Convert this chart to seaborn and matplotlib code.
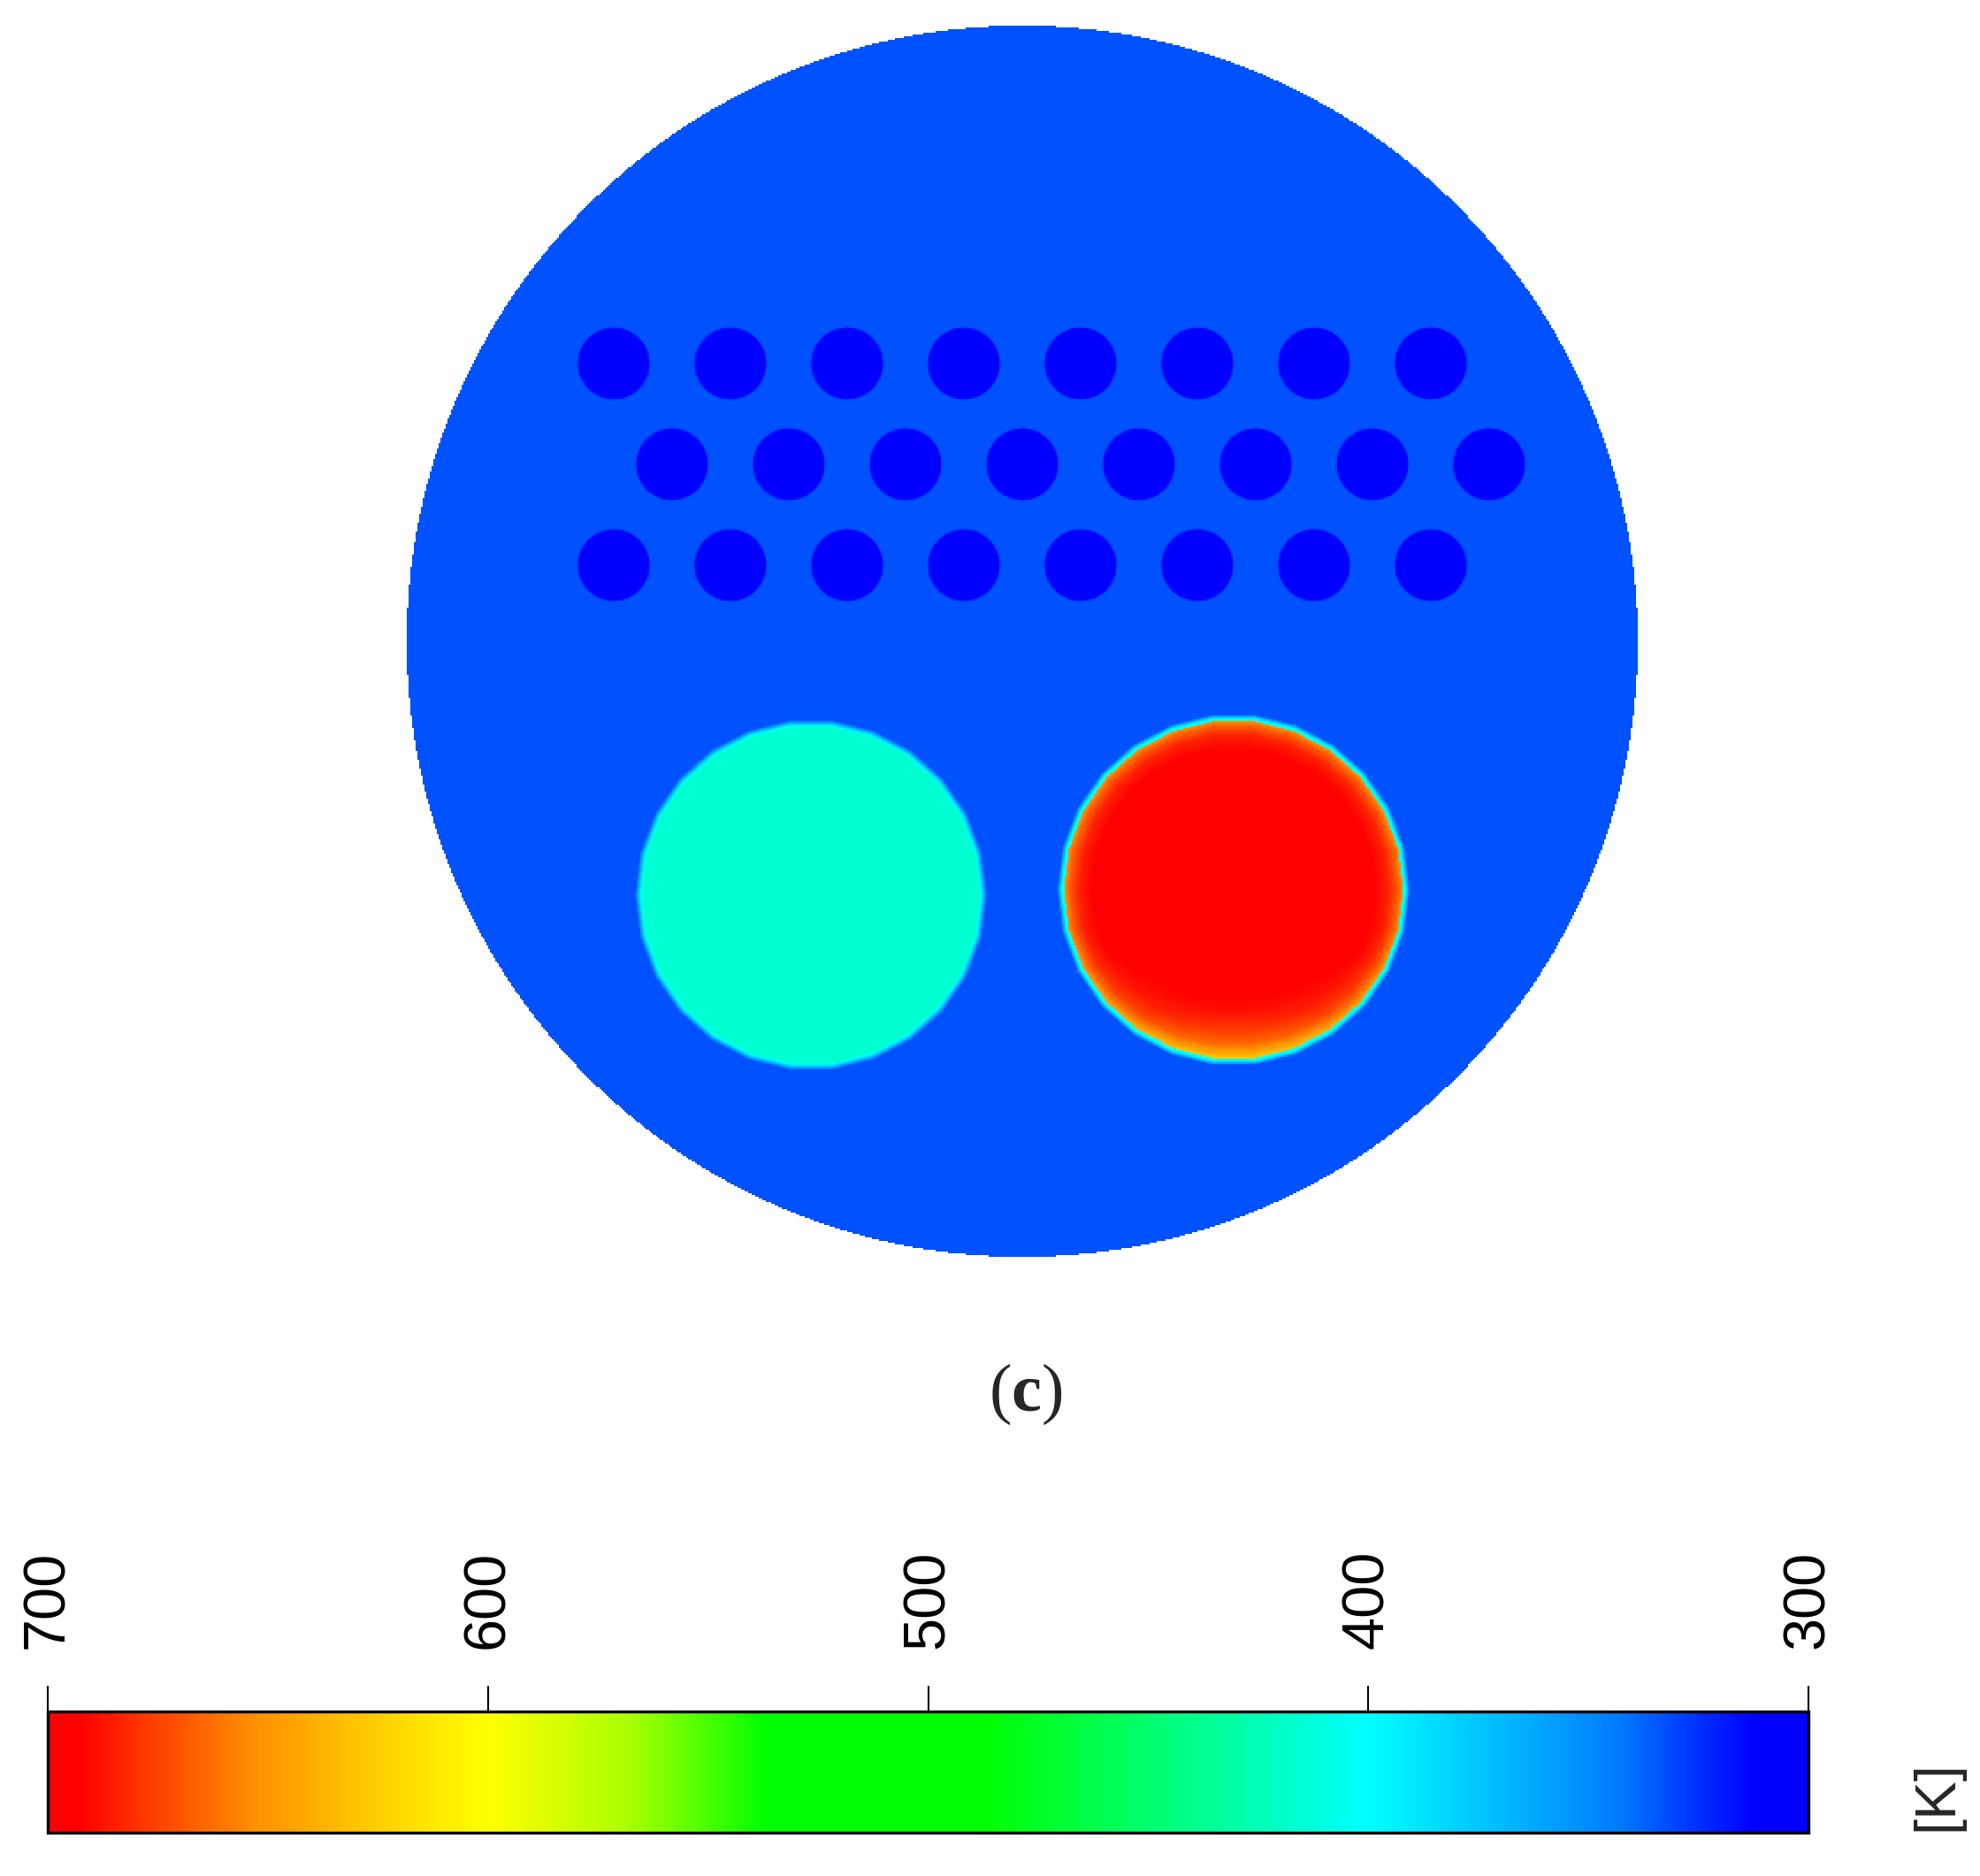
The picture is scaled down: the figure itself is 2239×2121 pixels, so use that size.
import numpy as np
import matplotlib.pyplot as plt
import seaborn as sns
from matplotlib.colors import LinearSegmentedColormap

# temperature scale
scale_temps = [300, 312, 328, 342, 371, 400, 487, 537, 568, 600, 619, 653, 680, 693, 700]
scale_colors = ['#0000ff', '#0000ff', '#003cff', '#0078ff', '#00beff', '#00ffff', '#00ff00',
                '#00ff00', '#aaff00', '#ffff00', '#ffdc00', '#ff9100', '#ff3200', '#ff0000', '#ff0000']
tick_temps = [700, 600, 500, 400, 300]

# geometry of the section, origin at the centre, y pointing down
domain_radius = 348
hole_radius = 20
hole_rows_y = [-157, -100, -43]
hole_rows_x = [[-231, -165, -99, -33, 33, 99, 165, 231],
               [-198, -132, -66, 0, 66, 132, 198, 264],
               [-231, -165, -99, -33, 33, 99, 165, 231]]
warm_center = (-119.5, 143.5)
warm_radius = 97.5
hot_center = (119.5, 140.5)
hot_radius = 98.5
facets = 26

# temperatures in K
t_base = 333
t_hole = 300
t_warm = 416
t_ring = 400
rim_depth = [0, 3, 8, 16, 30, 60]
rim_temp = [652, 668, 684, 693, 699, 700]
bottom_pos = [-1, 0.3, 0.7, 1]
bottom_drop = [0, 0, 9, 28]


def facet_radius(dx, dy, radius):
    step = 2 * np.pi / facets
    ang = np.mod(np.arctan2(dy, dx), step) - step / 2
    return radius * np.cos(step / 2) / np.cos(ang)


edges = np.arange(-domain_radius, domain_radius) + 0.5
X, Y = np.meshgrid(edges, edges)
T = np.full(X.shape, float(t_base))

# cooling holes
for y0, row in zip(hole_rows_y, hole_rows_x):
    for x0 in row:
        rho = np.hypot(X - x0, Y - y0)
        k = np.clip((hole_radius - rho) / 1.5 + 0.5, 0, 1)
        T = T + (t_hole - T) * k

# one hole has a cut corner
dx, dy = X + 33, Y + 43
cut = (np.hypot(dx, dy) < 22) & (dy < -2.05 * dx - 68) & (dx < 0)
T[cut] = t_base

# warm bar
dx, dy = X - warm_center[0], Y - warm_center[1]
rho = np.hypot(dx, dy)
k = np.clip((facet_radius(dx, dy, warm_radius) - rho) / 4 + 0.5, 0, 1)
T = T + (t_warm - T) * k

# hot bar with a thin ring round it
dx, dy = X - hot_center[0], Y - hot_center[1]
rho = np.hypot(dx, dy)
rp = facet_radius(dx, dy, hot_radius)
k = np.clip((rp - rho) / 2.5 + 0.5, 0, 1)
T = T + (t_ring - T) * k
inner = rho < rp - 2.6
depth = rp - 2.6 - rho
hot = np.interp(depth, rim_depth, rim_temp) - np.interp(dy / hot_radius, bottom_pos, bottom_drop)
T[inner] = hot[inner]

outside = np.hypot(X, Y) > domain_radius

sns.set_style('white')
plt.rcParams['font.family'] = ['Liberation Sans', 'DejaVu Sans']
plt.rcParams['mathtext.fontset'] = 'custom'
plt.rcParams['mathtext.rm'] = 'Liberation Serif'
plt.rcParams['mathtext.bf'] = 'Liberation Serif:bold'

W, H = 2239, 2121
fig = plt.figure(figsize=(W / 100, H / 100), dpi=100)
ax = fig.add_axes([460 / W, 1 - 1421 / H, 1392 / W, 1392 / H])
cax = fig.add_axes([54 / W, 1 - 2072 / H, 1991 / W, 137 / H])

positions = [(t - 300) / 400 for t in scale_temps]
cmap = LinearSegmentedColormap.from_list('fluent', list(zip(positions, scale_colors)), N=512)

sns.heatmap(T, mask=outside, cmap=cmap, vmin=300, vmax=700, ax=ax, cbar_ax=cax,
            cbar_kws={'orientation': 'horizontal', 'ticks': tick_temps},
            xticklabels=False, yticklabels=False, square=True, rasterized=True)
ax.set_facecolor('white')

cax.invert_xaxis()
cax.xaxis.set_ticks_position('top')
cax.tick_params(axis='x', direction='out', length=21, width=1.5, color='black', pad=30,
                labelsize=48, labelrotation=90, labelcolor='black')
cbar = ax.collections[0].colorbar
cbar.outline.set_visible(True)
cbar.outline.set_edgecolor('black')
cbar.outline.set_linewidth(2.4)

fig.text(2190 / W, 1 - 2030 / H, '[K]', rotation=90, ha='center', va='center', fontsize=47)
fig.text(1160 / W, 1 - 1576 / H, r'($\mathbf{c}$)', ha='center', va='center', fontsize=55,
         family=['Liberation Serif', 'DejaVu Serif'])

fig.savefig('out.png', dpi=100)
